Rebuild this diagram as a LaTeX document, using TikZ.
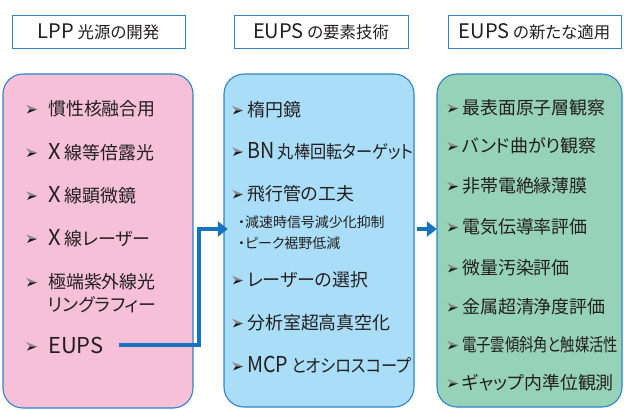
\documentclass[tikz,border=0pt]{standalone}
\usepackage{graphicx}
\usepackage{fontspec}
\setmainfont[RawFeature={+palt}]{Noto Sans CJK JP}
\usetikzlibrary{arrows.meta}
\definecolor{pinkfill}{RGB}{246,192,216}
\definecolor{bluefill}{RGB}{170,222,248}
\definecolor{greenfill}{RGB}{150,210,184}
\definecolor{edgeblue}{RGB}{45,130,200}
\definecolor{arrowblue}{RGB}{24,115,190}
\definecolor{txt}{RGB}{35,31,32}
\newcommand\bul{\tikz[x=1bp,y=1bp,baseline={(0,-2.5bp)}]{%
  \fill[black!45] (0,8.5) -- (11,4) -- (3.5,4) -- cycle;
  \fill[black!90] (1,0) -- (11,4) -- (3.5,4) -- cycle;}}
\newcommand\bulitem[2]{\makebox[#1][l]{\bul}#2}
\newcommand\lt[1]{{\addfontfeatures{Scale=1.22}#1}}
\tikzset{
  head/.style={draw=edgeblue, line width=0.9bp, minimum height=33bp, inner sep=0pt,
    font=\fontsize{16.5}{16.5}\selectfont, text=txt},
  panel/.style={draw=edgeblue, line width=1.1bp, rounded corners=20bp},
  itemtxt/.style={anchor=west, inner sep=0pt, text=txt, font=\fontsize{18}{23}\selectfont},
  subtxt/.style={anchor=west, inner sep=0pt, text=txt, font=\fontsize{14}{16}\selectfont},
  conn/.style={draw=arrowblue, line width=4bp, -{Triangle[length=10bp,width=15bp]}}
}
\begin{document}
\begin{tikzpicture}[x=1bp,y=-1bp]
\useasboundingbox (0,0) rectangle (624,409);
% headers
\node[head, minimum width=173bp] (h1) at (98.5,31.5) {\lt{LPP} 光源の開発};
\node[head, minimum width=174bp] (h2) at (321,31.5) {\lt{EUPS} の要素技術};
\node[head, minimum width=173bp] (h3) at (534.5,31.5) {\lt{EUPS} の新たな適用};
% panels
\draw[panel, fill=pinkfill] (3,74) rectangle (193,408);
\node[inner sep=0pt, minimum width=190bp, minimum height=334bp] (pink) at (98,241) {};
\draw[panel, fill=bluefill] (224,74) rectangle (414,407);
\node[inner sep=0pt, minimum width=190bp, minimum height=333bp] (blue) at (319,240.5) {};
\draw[panel, fill=greenfill] (437,74) rectangle (622,407);
\node[inner sep=0pt, minimum width=185bp, minimum height=333bp] (green) at (529.5,240.5) {};
% pink items
\node[itemtxt] (p1) at (26,109) {\bulitem{22bp}{慣性核融合用}};
\node[itemtxt] (p2) at (26,152) {\bulitem{22bp}{\lt{X} 線等倍露光}};
\node[itemtxt] (p3) at (26,195) {\bulitem{22bp}{\lt{X} 線顕微鏡}};
\node[itemtxt] (p4) at (26,238) {\bulitem{22bp}{\lt{X} 線レーザー}};
\node[itemtxt, align=left] (p5) at (26,293.5) {\bulitem{22bp}{極端紫外線光}\\\hspace*{22bp}リングラフィー};
\node[itemtxt] (eups) at (26,345) {\bulitem{22bp}{\lt{EUPS}}};
% blue items
\node[itemtxt] (b1) at (232,110) {\bulitem{15bp}{楕円鏡}};
\node[itemtxt] (b2) at (232,151) {\bulitem{15bp}{\scalebox{0.9}[1]{\lt{BN} 丸棒回転ターゲット}}};
\node[itemtxt] (b3) at (232,194) {\bulitem{15bp}{飛行管の工夫}};
\node[subtxt] (b3a) at (238,222) {・減速時信号減少化抑制};
\node[subtxt] (b3b) at (238,243) {・ピーク裾野低減};
\node[itemtxt] (b4) at (232,280) {\bulitem{15bp}{レーザーの選択}};
\node[itemtxt] (b5) at (232,323) {\bulitem{15bp}{分析室超高真空化}};
\node[itemtxt] (b6) at (232,365) {\bulitem{15bp}{\scalebox{0.9}[1]{\lt{MCP} とオシロスコープ}}};
% green items
\node[itemtxt] (g1) at (447,108) {\bulitem{15bp}{最表面原子層観察}};
\node[itemtxt] (g2) at (447,146) {\bulitem{15bp}{バンド曲がり観察}};
\node[itemtxt] (g3) at (447,186) {\bulitem{15bp}{非帯電絶縁薄膜}};
\node[itemtxt] (g4) at (447,227) {\bulitem{15bp}{電気伝導率評価}};
\node[itemtxt] (g5) at (447,268) {\bulitem{15bp}{微量汚染評価}};
\node[itemtxt] (g6) at (447,307) {\bulitem{15bp}{金属超清浄度評価}};
\node[itemtxt] (g7) at (447,345) {\bulitem{15bp}{\scalebox{0.8}[1]{電子雲傾斜角と触媒活性}}};
\node[itemtxt] (g8) at (447,383) {\bulitem{15bp}{ギャップ内準位観測}};
% connectors
\coordinate (turn) at (199,229);
\draw[conn] ([xshift=15bp]eups.east) -| (turn) -- ([xshift=4bp]turn -| blue.west);
\draw[conn] ([xshift=3bp]turn -| blue.east) -- (turn -| green.west);
\end{tikzpicture}
\end{document}
